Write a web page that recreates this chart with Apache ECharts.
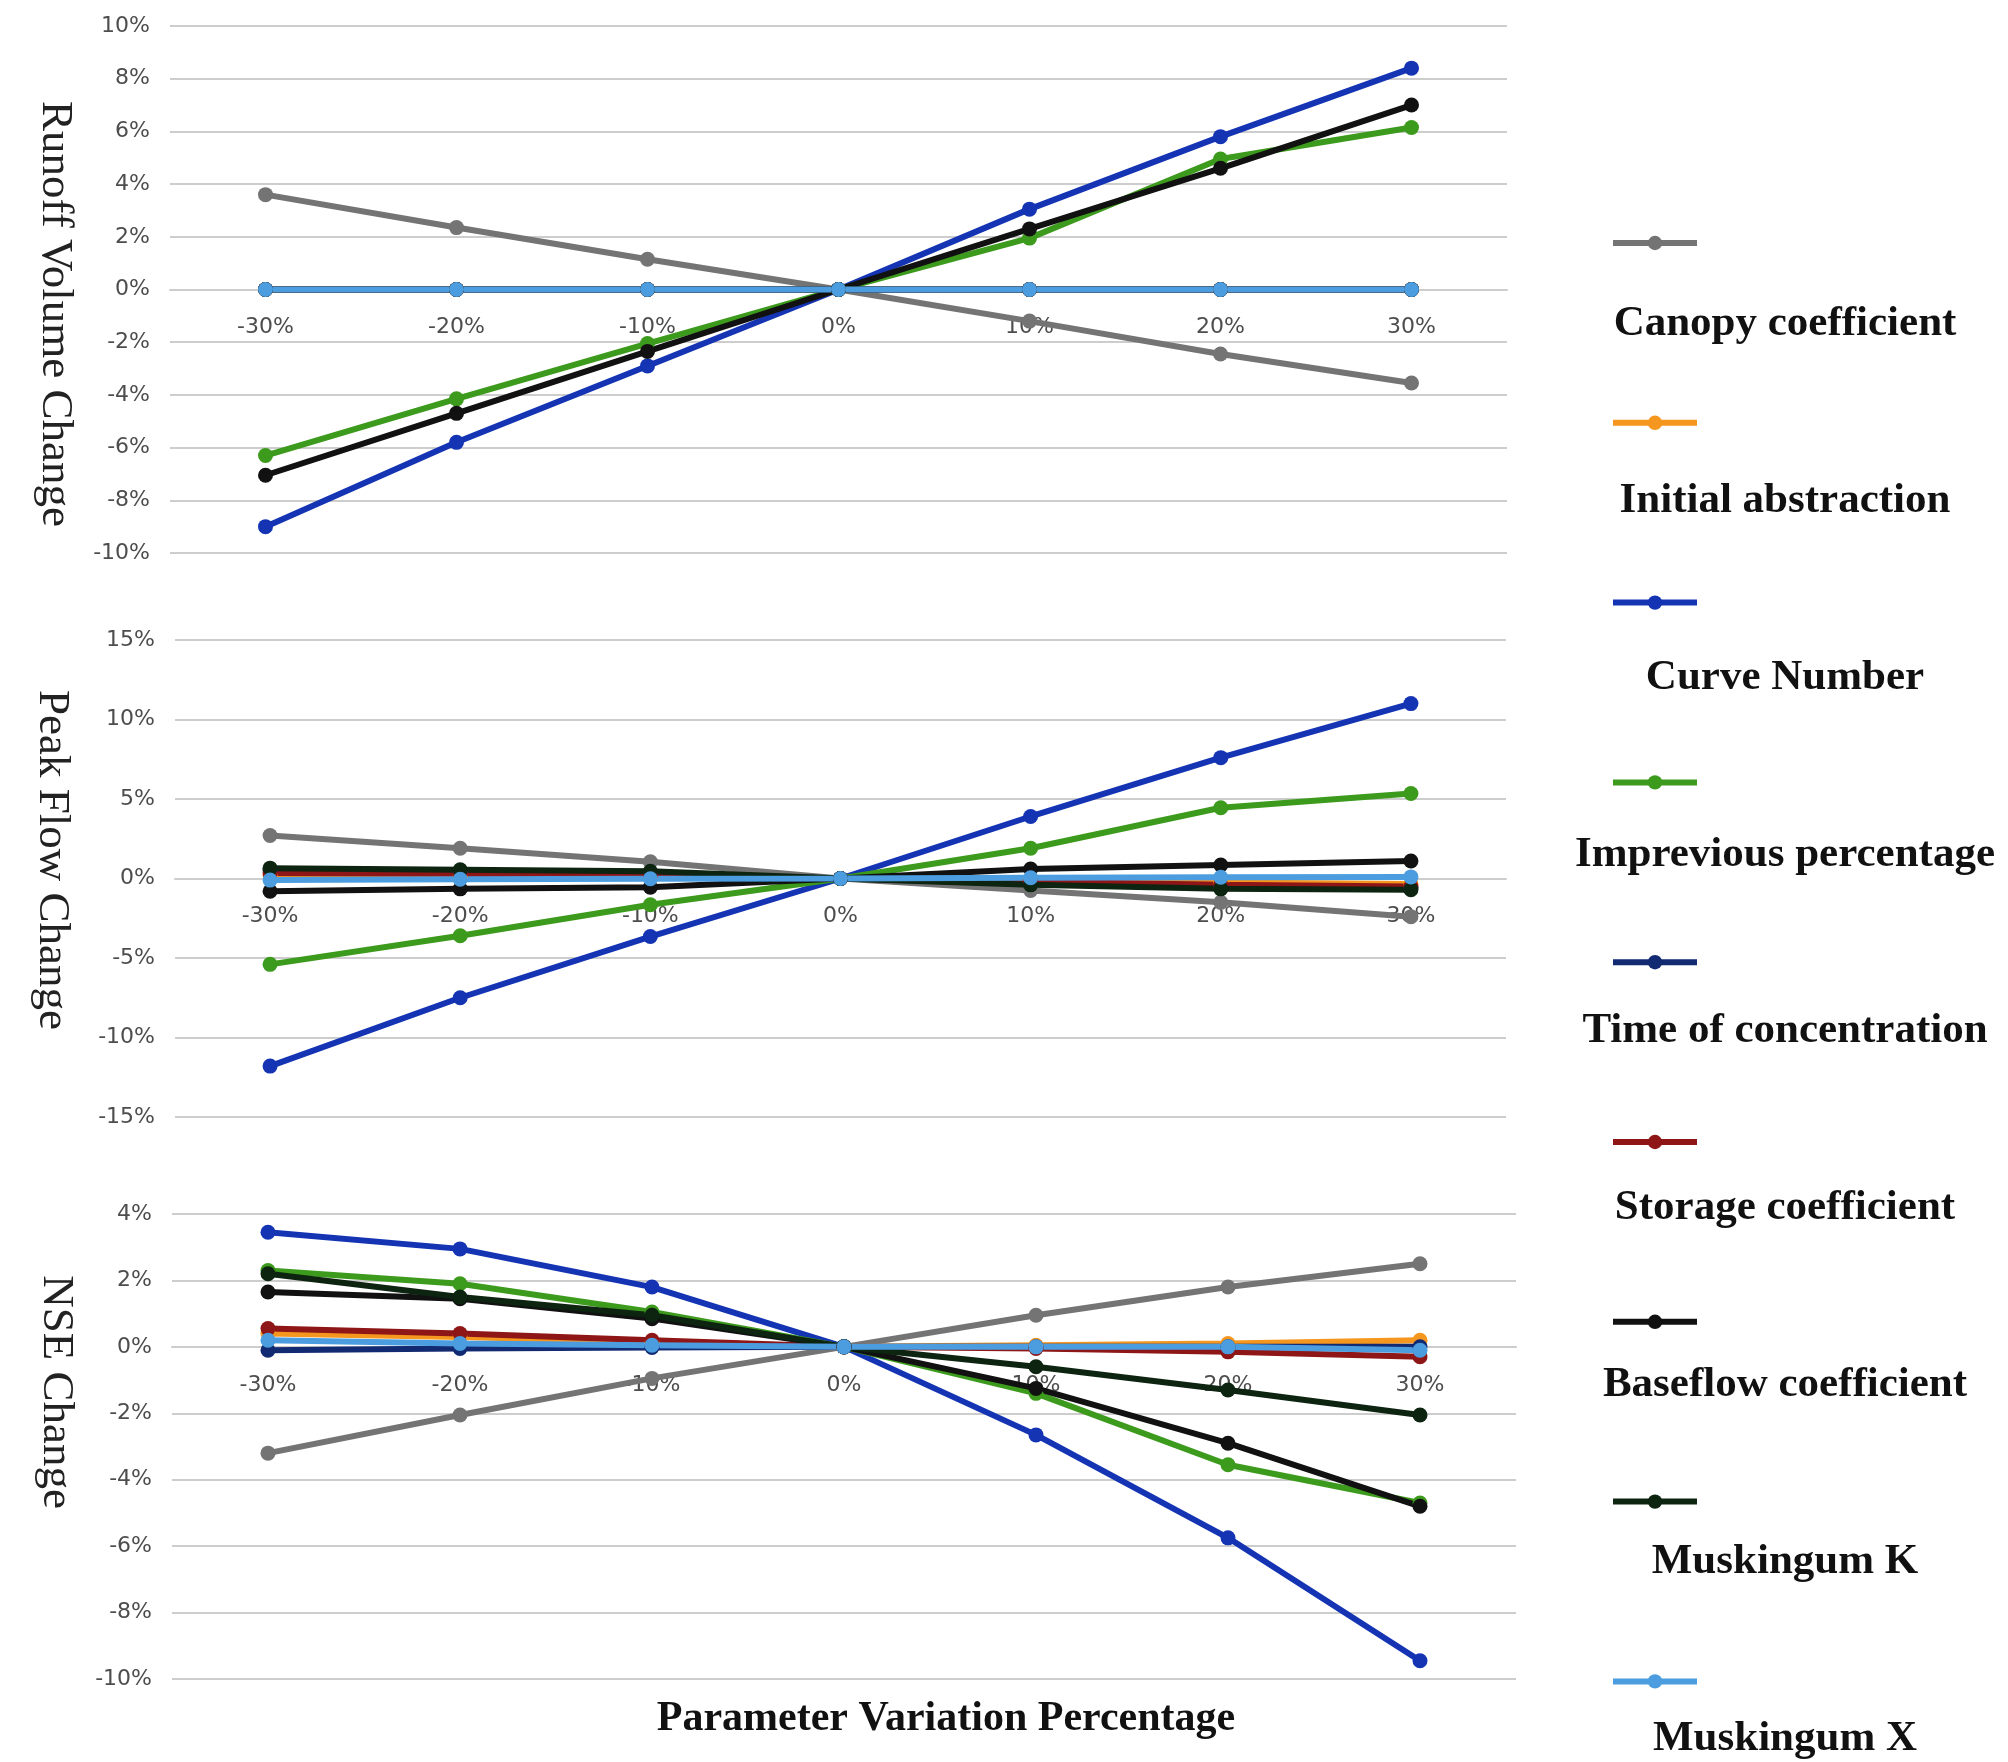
<!DOCTYPE html>
<html>
<head>
<meta charset="utf-8">
<script src="https://cdn.jsdelivr.net/npm/echarts@6/dist/echarts.min.js"></script>
<style>html,body{margin:0;padding:0;background:#fff}#c{width:2008px;height:1762px}</style>
</head>
<body>
<div id="c"></div>
<script>
// ---------- data ----------
const categories = ['-30%', '-20%', '-10%', '0%', '10%', '20%', '30%'];
const seriesNames = ['Canopy coefficient', 'Initial abstraction', 'Curve Number', 'Imprevious percentage',
  'Time of concentration', 'Storage coefficient', 'Baseflow coefficient', 'Muskingum K', 'Muskingum X'];

// rows follow seriesNames order, values in %
const runoffVolumeChange = [
  [3.6, 2.35, 1.15, 0, -1.2, -2.45, -3.55],
  [0, 0, 0, 0, 0, 0, 0],
  [-9.0, -5.8, -2.9, 0, 3.05, 5.8, 8.4],
  [-6.3, -4.15, -2.05, 0, 1.95, 4.95, 6.15],
  [0, 0, 0, 0, 0, 0, 0],
  [0, 0, 0, 0, 0, 0, 0],
  [-7.05, -4.7, -2.35, 0, 2.3, 4.6, 7.0],
  [0, 0, 0, 0, 0, 0, 0],
  [0, 0, 0, 0, 0, 0, 0]
];
const peakFlowChange = [
  [2.7, 1.9, 1.05, 0, -0.75, -1.5, -2.4],
  [0.2, 0.15, 0.1, 0, -0.1, -0.25, -0.35],
  [-11.8, -7.5, -3.65, 0, 3.9, 7.6, 11.0],
  [-5.4, -3.6, -1.65, 0, 1.9, 4.45, 5.35],
  [0.5, 0.4, 0.3, 0, -0.3, -0.5, -0.6],
  [0.35, 0.3, 0.2, 0, -0.2, -0.4, -0.5],
  [-0.8, -0.65, -0.55, 0, 0.6, 0.85, 1.1],
  [0.65, 0.55, 0.45, 0, -0.4, -0.65, -0.7],
  [-0.1, -0.05, -0.02, 0, 0.05, 0.08, 0.1]
];
const nseChange = [
  [-3.2, -2.05, -0.95, 0, 0.95, 1.8, 2.5],
  [0.4, 0.3, 0.15, 0, 0.05, 0.1, 0.2],
  [3.45, 2.95, 1.8, 0, -2.65, -5.75, -9.45],
  [2.3, 1.9, 1.05, 0, -1.4, -3.55, -4.7],
  [-0.1, -0.05, -0.02, 0, 0, 0, 0],
  [0.55, 0.4, 0.2, 0, -0.05, -0.15, -0.3],
  [1.65, 1.45, 0.85, 0, -1.25, -2.9, -4.8],
  [2.2, 1.5, 0.95, 0, -0.6, -1.3, -2.05],
  [0.2, 0.1, 0.05, 0, 0, 0, -0.1]
];
// y-axis ticks: [min, max, interval]
const runoffTicks = [-10, 10, 2];
const peakTicks = [-15, 15, 5];
const nseTicks = [-10, 4, 2];

const panelTitles = ['Runoff Volume Change', 'Peak Flow Change', 'NSE Change'];
const xTitle = 'Parameter Variation Percentage';

// ---------- styles / layout ----------
const colors = ['#747474', '#f5961e', '#1434b4', '#3c9a1c', '#122a72', '#8e1616', '#111111', '#0c2410', '#4b9de0'];
const gridBoxes = [
  { left: 170, top: 26, width: 1337, height: 527 },
  { left: 175, top: 640, width: 1331, height: 477 },
  { left: 172, top: 1214, width: 1344, height: 465 }
];
const titleCenters = [[55, 314], [52, 860], [56, 1392]];
const panelData = [runoffVolumeChange, peakFlowChange, nseChange];
const panelTicks = [runoffTicks, peakTicks, nseTicks];

const numFont = { fontFamily: 'DejaVu Sans', fontSize: 22, color: '#4d4d4d' };
const gridColor = '#cdcdcd';

const option = {
  animation: false,
  backgroundColor: '#ffffff',
  grid: gridBoxes.map(g => Object.assign({ containLabel: false }, g)),
  xAxis: gridBoxes.map((g, i) => ({
    type: 'category', gridIndex: i, data: categories, boundaryGap: true,
    position: 'bottom',
    // place the category axis at the y = 0 line of its panel
    offset: -g.height * (0 - panelTicks[i][0]) / (panelTicks[i][1] - panelTicks[i][0]),
    axisLine: { show: true, onZero: false, lineStyle: { color: gridColor, width: 2 } },
    axisTick: { show: false },
    axisLabel: Object.assign({ margin: 27, interval: 0 }, numFont),
    splitLine: { show: false }
  })),
  yAxis: gridBoxes.map((g, i) => ({
    type: 'value', gridIndex: i,
    min: panelTicks[i][0], max: panelTicks[i][1], interval: panelTicks[i][2],
    axisLine: { show: false }, axisTick: { show: false },
    axisLabel: Object.assign({ margin: 20, formatter: '{value}%' }, numFont),
    splitLine: { show: true, lineStyle: { color: gridColor, width: 2 } }
  })),
  legend: {
    orient: 'vertical', left: 1605, top: 229,
    itemWidth: 84, itemHeight: 18, itemGap: 163.6,
    data: seriesNames,
    formatter: () => '',
    textStyle: { fontSize: 10 },
    lineStyle: { width: 6 },
    selectedMode: false
  },
  series: [],
  graphic: []
};

panelData.forEach((rows, p) => {
  rows.forEach((vals, s) => {
    option.series.push({
      type: 'line', name: seriesNames[s], xAxisIndex: p, yAxisIndex: p,
      data: vals, symbol: 'circle', symbolSize: 15,
      lineStyle: { width: 6, color: colors[s] },
      itemStyle: { color: colors[s] },
      emphasis: { disabled: true }
    });
  });
});

panelTitles.forEach((t, i) => {
  option.graphic.push({
    type: 'text', x: titleCenters[i][0], y: titleCenters[i][1], rotation: -Math.PI / 2,
    style: { text: t, fontFamily: 'Liberation Serif', fontSize: 45, fill: '#222', align: 'center', verticalAlign: 'middle' }
  });
});
option.graphic.push({
  type: 'text', x: 946, y: 1719,
  style: { text: xTitle, fontFamily: 'Liberation Serif', fontWeight: 'bold', fontSize: 42, fill: '#111', align: 'center', verticalAlign: 'middle' }
});
seriesNames.forEach((n, i) => {
  option.graphic.push({
    type: 'text', x: 1785, y: 324 + 176.8 * i,
    style: { text: n, fontFamily: 'Liberation Serif', fontWeight: 'bold', fontSize: 43, fill: '#111', align: 'center', verticalAlign: 'middle' }
  });
});

const chart = echarts.init(document.getElementById('c'), null, { renderer: 'canvas' });
chart.setOption(option);
</script>
</body>
</html>
